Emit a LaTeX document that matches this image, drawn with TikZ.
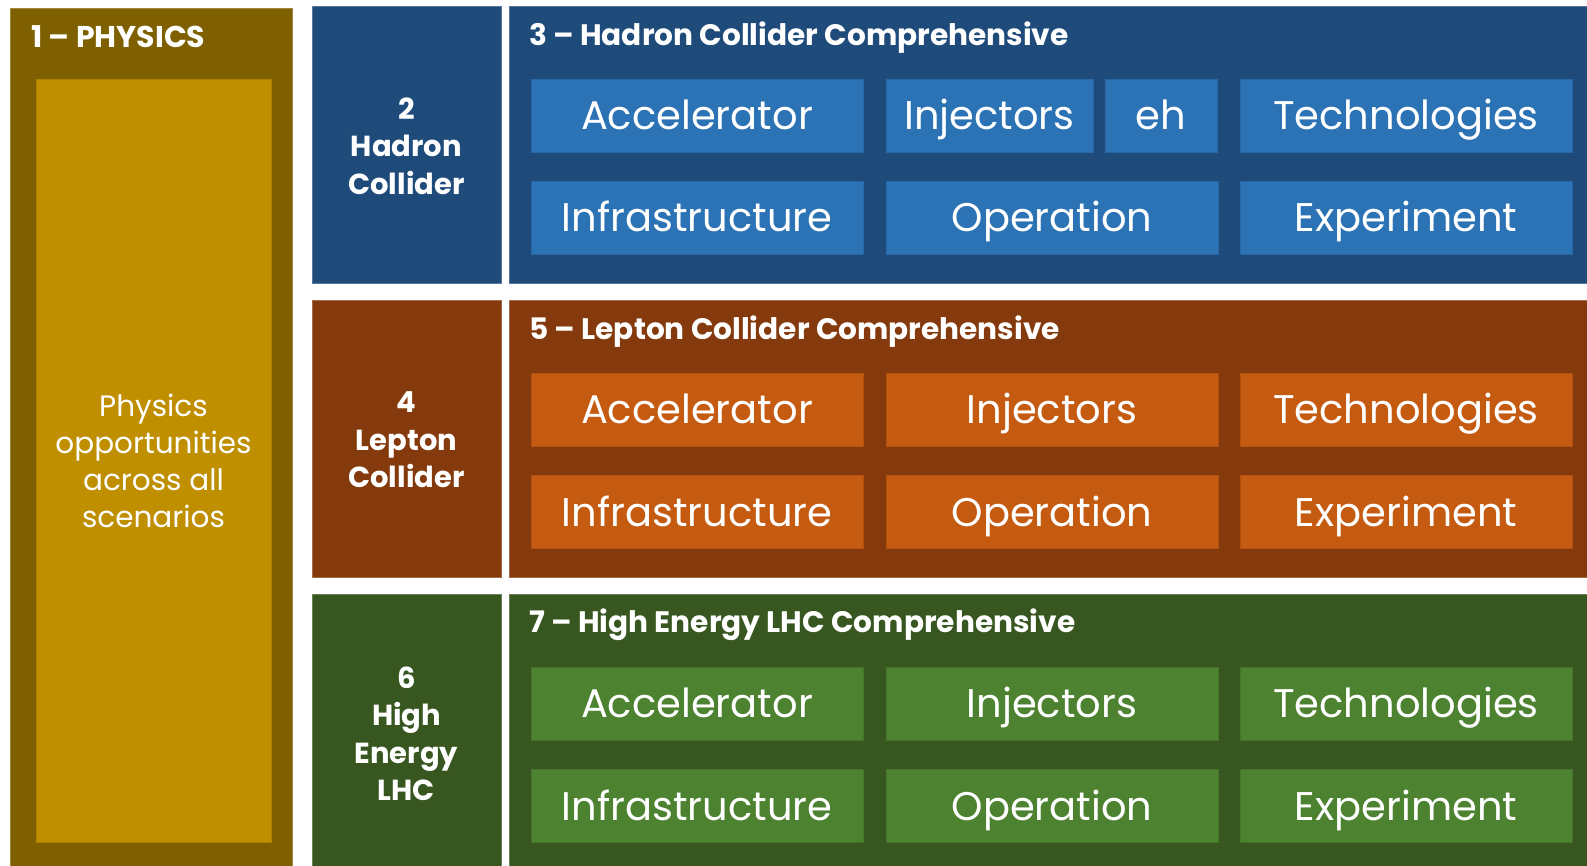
\documentclass[tikz,border=0pt]{standalone}
\usepackage{fontspec}
\setmainfont{Poppins}
\definecolor{physD}{HTML}{7F6000}
\definecolor{physL}{HTML}{BF8F00}
\definecolor{hadD}{HTML}{1F4B7B}
\definecolor{hadL}{HTML}{2C73B6}
\definecolor{lepD}{HTML}{843A0C}
\definecolor{lepL}{HTML}{C55A11}
\definecolor{heD}{HTML}{38561F}
\definecolor{heL}{HTML}{4C8230}
\begin{document}
\begin{tikzpicture}[x=1pt,y=-1pt,
  panel/.style={rectangle, inner sep=0pt, outer sep=0pt, draw=#1!75!white, line width=0.8pt, fill=#1},
  sub/.style={rectangle, inner sep=0pt, outer sep=0pt, draw=#1!90!black, line width=0.6pt, fill=#1,
    text=white, font=\fontsize{40}{46}\selectfont, text height=28pt, text depth=0pt, minimum height=73pt},
  wide/.style={minimum width=332pt},
  ttl/.style={anchor=base west, inner sep=0pt, text=white, font=\fontsize{29.6}{36}\bfseries\selectfont},
  side/.style={align=center, inner sep=0pt, text=white, font=\fontsize{29}{37.5}\bfseries\selectfont},
]
\useasboundingbox (0,0) rectangle (1587,866);
\fill[white] (0,0) rectangle (1587,866);
\clip (0,0) rectangle (1587,866);

% physics column
\node[panel=physD, minimum width=282pt, minimum height=872pt] (phys) at (151,444) {};
\node[panel=physL, draw=physL!90!black, line width=0.5pt, minimum width=235pt, minimum height=763pt] (physin) at (153.5,460.5) {};
\node[ttl, font=\fontsize{30}{36}\bfseries\selectfont] (physttl) at (31,48) {1 -- PHYSICS};
\node[align=center, inner sep=0pt, text=white, font=\fontsize{29.5}{37}\selectfont] (phystxt) at (physin.center) {Physics\\opportunities\\across all\\scenarios};

% hadron row
\node[panel=hadD, minimum width=189pt, minimum height=277pt] (had) at (406.5,144.5) {};
\node[panel=hadD, minimum width=1086pt, minimum height=277pt] (hadc) at (1052,144.5) {};
\node[side] (hadlbl) at (406.5,146) {2\\Hadron\\Collider};
\node[ttl] (hadttl) at (529,46) {3 -- Hadron Collider Comprehensive};
\node[sub=hadL, wide] (hAcc) at (697,115.5) {Accelerator};
\node[sub=hadL, minimum width=207pt] (hInj) at (989.5,115.5) {Injectors};
\node[sub=hadL, minimum width=112pt] (hEh) at (1161,115.5) {eh};
\node[sub=hadL, wide] (hTec) at (1406,115.5) {Technologies};
\node[sub=hadL, wide] (hInf) at (697,218) {Infrastructure};
\node[sub=hadL, wide] (hOp) at (1052,218) {Operation};
\node[sub=hadL, wide] (hExp) at (1406,218) {Experiment};

% lepton row
\node[panel=lepD, minimum width=189pt, minimum height=277pt] (lep) at (406.5,438.5) {};
\node[panel=lepD, minimum width=1086pt, minimum height=277pt] (lepc) at (1052,438.5) {};
\node[side] (leplbl) at (406.5,440) {4\\Lepton\\Collider};
\node[ttl] (lepttl) at (529,340) {5 -- Lepton Collider Comprehensive};
\node[sub=lepL, wide] (lAcc) at (697,409.5) {Accelerator};
\node[sub=lepL, wide] (lInj) at (1052,409.5) {Injectors};
\node[sub=lepL, wide] (lTec) at (1406,409.5) {Technologies};
\node[sub=lepL, wide] (lInf) at (697,512) {Infrastructure};
\node[sub=lepL, wide] (lOp) at (1052,512) {Operation};
\node[sub=lepL, wide] (lExp) at (1406,512) {Experiment};

% high energy LHC row
\node[panel=heD, minimum width=189pt, minimum height=281pt] (he) at (406.5,734.5) {};
\node[panel=heD, minimum width=1086pt, minimum height=281pt] (hec) at (1052,734.5) {};
\node[side] (helbl) at (406.5,734) {6\\High\\Energy\\LHC};
\node[ttl] (hettl) at (529,632) {7 -- High Energy LHC Comprehensive};
\node[sub=heL, wide] (eAcc) at (697,703.5) {Accelerator};
\node[sub=heL, wide] (eInj) at (1052,703.5) {Injectors};
\node[sub=heL, wide] (eTec) at (1406,703.5) {Technologies};
\node[sub=heL, wide] (eInf) at (697,806) {Infrastructure};
\node[sub=heL, wide] (eOp) at (1052,806) {Operation};
\node[sub=heL, wide] (eExp) at (1406,806) {Experiment};
\end{tikzpicture}
\end{document}
